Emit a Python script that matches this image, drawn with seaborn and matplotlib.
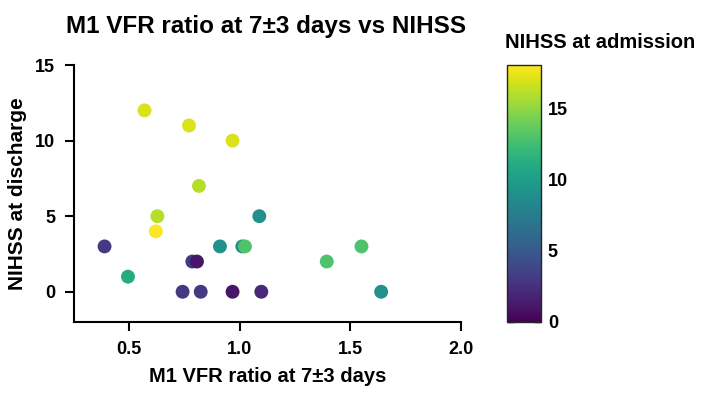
import pandas as pd
import matplotlib
matplotlib.use("Agg")
import matplotlib.pyplot as plt
import seaborn as sns

# data
vfr_ratio = [0.569, 0.77, 0.967, 0.815, 0.627, 0.62, 1.088, 0.388, 0.91, 1.011,
             1.023, 1.55, 0.785, 0.806, 1.393, 0.494, 0.741, 0.823, 0.967, 1.097, 1.639]
nihss_discharge = [12, 11, 10, 7, 5, 4, 5, 3, 3, 3,
                   3, 3, 2, 2, 2, 1, 0, 0, 0, 0, 0]
nihss_admission = [17, 17, 17, 16, 16, 18, 9, 3, 9, 9,
                   13, 13, 3, 1, 13, 11, 3, 3, 1, 2, 9]

df = pd.DataFrame({"vfr": vfr_ratio, "dis": nihss_discharge, "adm": nihss_admission})

sns.set_style("white")
plt.rcParams["font.family"] = ["Liberation Sans", "DejaVu Sans"]
plt.rcParams["font.weight"] = "bold"
for key in ["text.color", "axes.labelcolor", "xtick.color", "ytick.color"]:
    plt.rcParams[key] = "black"

fig = plt.figure(figsize=(7.07, 3.99), dpi=100)
ax = fig.add_axes([0.1047, 0.193, 0.5473, 0.644])

norm = plt.Normalize(0, 18)
sns.scatterplot(data=df, x="vfr", y="dis", hue="adm", palette="viridis",
                hue_norm=norm, s=100, linewidth=0, legend=False, ax=ax)

ax.set_xlim(0.25, 2.0)
ax.set_ylim(-2, 15)
ax.set_xticks([0.5, 1.0, 1.5, 2.0])
ax.set_xticklabels(["0.5", "1.0", "1.5", "2.0"])
ax.set_yticks([0, 5, 10, 15])
ax.tick_params(direction="out", length=6.5, width=1.5, labelsize=13, pad=7,
               bottom=True, left=True, colors="black")
for lab in ax.get_xticklabels() + ax.get_yticklabels():
    lab.set_fontweight("bold")
for side in ["top", "right"]:
    ax.spines[side].set_visible(False)
for side in ["left", "bottom"]:
    ax.spines[side].set_linewidth(1.5)
    ax.spines[side].set_color("black")
ax.set_xlabel("M1 VFR ratio at 7±3 days", fontsize=14.5, fontweight="bold", labelpad=7)
ax.set_ylabel("NIHSS at discharge", fontsize=15, fontweight="bold", labelpad=6)

fig.text(66 / 707, 1 - 26 / 399, "M1 VFR ratio at 7±3 days vs NIHSS",
         fontsize=17.5, fontweight="bold", ha="left", va="center")

cax = fig.add_axes([0.717, 0.193, 0.048, 0.643])
sm = plt.cm.ScalarMappable(cmap="viridis", norm=norm)
cb = fig.colorbar(sm, cax=cax, ticks=[0, 5, 10, 15])
cb.outline.set_linewidth(1)
cb.ax.tick_params(direction="in", length=5, width=1, labelsize=13, pad=5,
                  left=True, right=True, colors="black")
for lab in cb.ax.get_yticklabels():
    lab.set_fontweight("bold")
fig.text(505 / 707, 1 - 43 / 399, "NIHSS at admission", fontsize=14.5,
         fontweight="bold", ha="left", va="center")

fig.savefig("out.png", dpi=100)
